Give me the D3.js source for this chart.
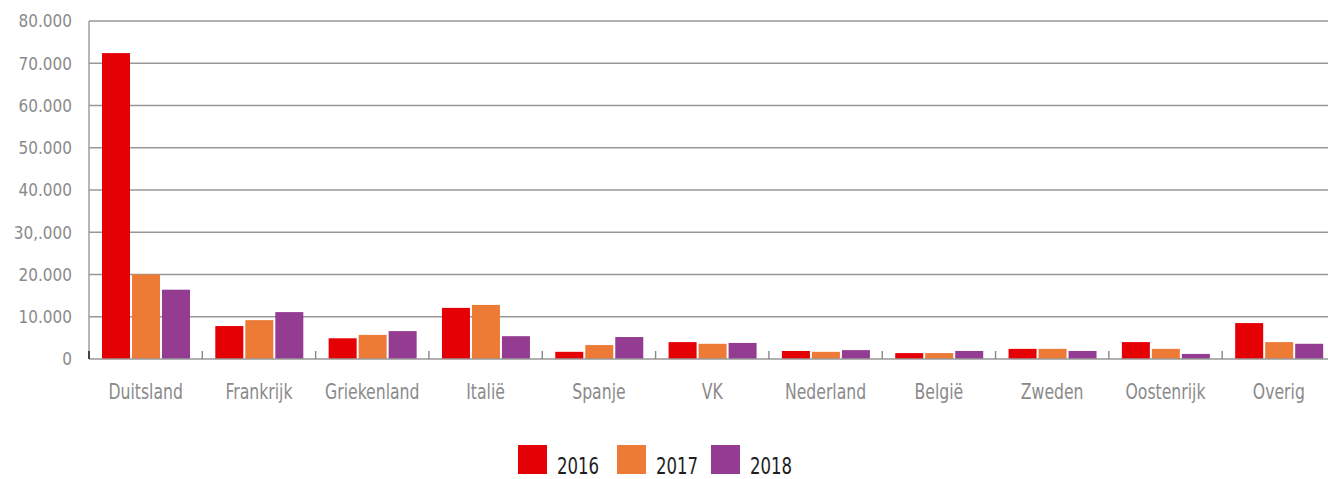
<!DOCTYPE html>
<html>
<head>
<meta charset="utf-8">
<script src="https://cdn.jsdelivr.net/npm/d3@7"></script>
<style>
  html, body { margin: 0; padding: 0; background: #fff; }
  svg { display: block; }
</style>
</head>
<body>
<svg id="chart" width="1328" height="479"></svg>
<script>
const categories = ["Duitsland", "Frankrijk", "Griekenland", "Italië", "Spanje", "VK", "Nederland", "België", "Zweden", "Oostenrijk", "Overig"];
const seriesNames = ["2016", "2017", "2018"];
const values2016 = [72400, 7800, 4900, 12100, 1700, 4000, 1900, 1400, 2400, 4000, 8500];
const values2017 = [20000, 9200, 5700, 12800, 3300, 3600, 1700, 1400, 2400, 2400, 4000];
const values2018 = [16400, 11100, 6600, 5400, 5200, 3800, 2100, 1900, 1900, 1200, 3600];
const yTickValues = [0, 10000, 20000, 30000, 40000, 50000, 60000, 70000, 80000];
const yTickLabels = ["0", "10.000", "20.000", "30,.000", "40.000", "50.000", "60.000", "70.000", "80.000"];
const colors = ["#e50005", "#ee7b35", "#943c91"];

const seriesValues = [values2016, values2017, values2018];
const svg = d3.select("#chart");
const FONT = "'DejaVu Sans Condensed', 'DejaVu Sans', sans-serif";

const plotLeft = 89, plotRight = 1335.5, plotTop = 21, plotBottom = 359;

const x0 = d3.scaleBand().domain(categories).range([plotLeft, plotRight]).padding(0);
const x1 = d3.scaleBand().domain(seriesNames).range([13, 13 + 88]).paddingInner(2 / 30).paddingOuter(0);
const y = d3.scaleLinear().domain([0, 80000]).range([plotBottom, plotTop]);

const grey = "#979797";

function squeeze(sel, factor) {
  sel.each(function () {
    const len = this.getComputedTextLength();
    d3.select(this).attr("textLength", len * factor).attr("lengthAdjust", "spacingAndGlyphs");
  });
}

// gridlines
svg.append("g")
  .selectAll("line")
  .data(yTickValues.filter(v => v > 0))
  .join("line")
  .attr("x1", plotLeft).attr("x2", 1328)
  .attr("y1", d => y(d)).attr("y2", d => y(d))
  .attr("stroke", grey).attr("stroke-width", 1.4);

// y axis line
svg.append("line")
  .attr("x1", plotLeft).attr("x2", plotLeft)
  .attr("y1", y(80000)).attr("y2", y(0))
  .attr("stroke", grey).attr("stroke-width", 1.4);

// y labels
const yLabels = svg.append("g")
  .selectAll("text")
  .data(yTickValues)
  .join("text")
  .attr("x", 72)
  .attr("y", d => y(d))
  .attr("dy", "0.36em")
  .attr("text-anchor", "end")
  .attr("font-family", FONT)
  .attr("font-size", 17.5)
  .attr("fill", "#8a8a8a")
  .text((d, i) => yTickLabels[i]);
squeeze(yLabels, 0.97);

// bars
const groups = svg.append("g")
  .selectAll("g")
  .data(categories)
  .join("g")
  .attr("transform", d => `translate(${x0(d)},0)`);

groups.selectAll("rect")
  .data((c, ci) => seriesNames.map((s, si) => ({ s, si, v: seriesValues[si][ci] })))
  .join("rect")
  .attr("x", d => x1(d.s))
  .attr("width", x1.bandwidth())
  .attr("y", d => y(d.v))
  .attr("height", d => y(0) - y(d.v))
  .attr("fill", d => colors[d.si]);

// x axis baseline
svg.append("line")
  .attr("x1", plotLeft).attr("x2", 1328)
  .attr("y1", y(0)).attr("y2", y(0))
  .attr("stroke", grey).attr("stroke-width", 1.6);

// category boundary ticks (pointing up)
const tickXs = categories.map(c => x0(c));
svg.append("g")
  .selectAll("line")
  .data(tickXs)
  .join("line")
  .attr("x1", d => d).attr("x2", d => d)
  .attr("y1", y(0)).attr("y2", y(0) - 8)
  .attr("stroke", (d, i) => i === 0 ? "#444" : "#888")
  .attr("stroke-width", (d, i) => i === 0 ? 2 : 1.4);

// x labels
const xLabels = svg.append("g")
  .selectAll("text")
  .data(categories)
  .join("text")
  .attr("x", d => x0(d) + x0.bandwidth() / 2)
  .attr("y", 399)
  .attr("text-anchor", "middle")
  .attr("font-family", FONT)
  .attr("font-size", 21.5)
  .attr("fill", "#8a8a8a")
  .text(d => d);
squeeze(xLabels, 0.81);

// legend
const legendX = [518, 617, 711];
const legend = svg.append("g")
  .selectAll("g")
  .data(seriesNames)
  .join("g")
  .attr("transform", (d, i) => `translate(${legendX[i]},445)`);
legend.append("rect")
  .attr("width", 29).attr("height", 29)
  .attr("fill", (d, i) => colors[i]);
const legendText = legend.append("text")
  .attr("x", 39)
  .attr("y", 28.5)
  .attr("font-family", FONT)
  .attr("font-size", 23)
  .attr("fill", "#1e1e1e")
  .text(d => d);
squeeze(legendText, 0.8);
</script>
</body>
</html>
